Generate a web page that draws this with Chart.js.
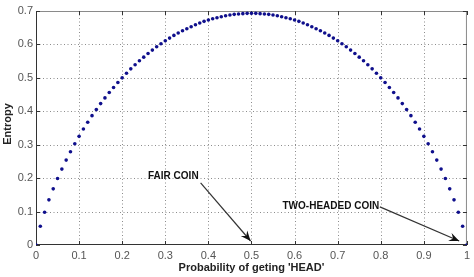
<!DOCTYPE html>
<html lang="en">
<head>
    <meta charset="UTF-8">
    <title>Entropy of a coin toss</title>
    <script src="https://cdn.jsdelivr.net/npm/chart.js@4.4.0/dist/chart.umd.min.js"></script>
    <style>
        html, body { margin: 0; padding: 0; background: #fff; }
        #wrap { width: 474px; height: 277px; }
    </style>
</head>
<body>
    <div id="wrap"><canvas id="myChart"></canvas></div>
</body>
<script>
    // probability of HEAD and the entropy (nats)
    var probs = [0, 0.01, 0.02, 0.03, 0.04, 0.05, 0.06, 0.07, 0.08, 0.09,
        0.10, 0.11, 0.12, 0.13, 0.14, 0.15, 0.16, 0.17, 0.18, 0.19,
        0.20, 0.21, 0.22, 0.23, 0.24, 0.25, 0.26, 0.27, 0.28, 0.29,
        0.30, 0.31, 0.32, 0.33, 0.34, 0.35, 0.36, 0.37, 0.38, 0.39,
        0.40, 0.41, 0.42, 0.43, 0.44, 0.45, 0.46, 0.47, 0.48, 0.49,
        0.50, 0.51, 0.52, 0.53, 0.54, 0.55, 0.56, 0.57, 0.58, 0.59,
        0.60, 0.61, 0.62, 0.63, 0.64, 0.65, 0.66, 0.67, 0.68, 0.69,
        0.70, 0.71, 0.72, 0.73, 0.74, 0.75, 0.76, 0.77, 0.78, 0.79,
        0.80, 0.81, 0.82, 0.83, 0.84, 0.85, 0.86, 0.87, 0.88, 0.89,
        0.90, 0.91, 0.92, 0.93, 0.94, 0.95, 0.96, 0.97, 0.98, 0.99, 1];
    var entropy = [0, 0.056, 0.098, 0.135, 0.168, 0.199, 0.227, 0.254, 0.279, 0.303,
        0.325, 0.347, 0.367, 0.387, 0.405, 0.423, 0.440, 0.456, 0.471, 0.486,
        0.500, 0.514, 0.527, 0.539, 0.551, 0.562, 0.573, 0.583, 0.593, 0.602,
        0.611, 0.619, 0.627, 0.634, 0.641, 0.647, 0.653, 0.659, 0.664, 0.669,
        0.673, 0.677, 0.680, 0.683, 0.686, 0.688, 0.690, 0.691, 0.692, 0.693,
        0.693, 0.693, 0.692, 0.691, 0.690, 0.688, 0.686, 0.683, 0.680, 0.677,
        0.673, 0.669, 0.664, 0.659, 0.653, 0.647, 0.641, 0.634, 0.627, 0.619,
        0.611, 0.602, 0.593, 0.583, 0.573, 0.562, 0.551, 0.539, 0.527, 0.514,
        0.500, 0.486, 0.471, 0.456, 0.440, 0.423, 0.405, 0.387, 0.367, 0.347,
        0.325, 0.303, 0.279, 0.254, 0.227, 0.199, 0.168, 0.135, 0.098, 0.056, 0];
    var xTicks = [0, 0.1, 0.2, 0.3, 0.4, 0.5, 0.6, 0.7, 0.8, 0.9, 1];
    var yTicks = [0, 0.1, 0.2, 0.3, 0.4, 0.5, 0.6, 0.7];
    var xTitle = "Probability of geting 'HEAD'";
    var yTitle = 'Entropy';
    // annotations: text anchor and arrow [from, to] in data units
    var notes = [
        { text: 'FAIR COIN', at: [0.26, 0.206], from: [0.382, 0.186], to: [0.498, 0.012] },
        { text: 'TWO-HEADED COIN', at: [0.572, 0.117], from: [0.798, 0.114], to: [0.982, 0.012] }
    ];

    var FONT = '"Liberation Sans", Arial, sans-serif';

    var frame = {
        id: 'frame',
        beforeDatasetsDraw: function (chart) {
            var c = chart.ctx, a = chart.chartArea;
            var xs = chart.scales.x, ys = chart.scales.y;
            c.save();
            // dotted grid
            c.strokeStyle = '#8c8c8c';
            c.lineWidth = 1;
            c.setLineDash([1, 2.5]);
            c.beginPath();
            xTicks.forEach(function (v) {
                if (v === 0 || v === 1) return;
                var px = Math.round(xs.getPixelForValue(v)) + 0.5;
                c.moveTo(px, a.top); c.lineTo(px, a.bottom);
            });
            yTicks.forEach(function (v) {
                if (v === 0 || v === 0.7) return;
                var py = Math.round(ys.getPixelForValue(v)) + 0.5;
                c.moveTo(a.left, py); c.lineTo(a.right, py);
            });
            c.stroke();
            c.setLineDash([]);
            // box
            c.strokeStyle = '#8a8a8a';
            c.beginPath();
            c.moveTo(a.left, a.top + 0.5); c.lineTo(a.right - 0.5, a.top + 0.5); c.lineTo(a.right - 0.5, a.bottom);
            c.stroke();
            c.strokeStyle = '#333';
            c.beginPath();
            c.moveTo(a.left + 0.5, a.top); c.lineTo(a.left + 0.5, a.bottom - 0.5); c.lineTo(a.right, a.bottom - 0.5);
            c.stroke();
            // inward ticks
            c.beginPath();
            xTicks.forEach(function (v) {
                var px = Math.round(xs.getPixelForValue(v)) + 0.5;
                c.moveTo(px, a.bottom); c.lineTo(px, a.bottom - 4);
                c.moveTo(px, a.top); c.lineTo(px, a.top + 4);
            });
            yTicks.forEach(function (v) {
                var py = Math.round(ys.getPixelForValue(v)) + 0.5;
                c.moveTo(a.left, py); c.lineTo(a.left + 4, py);
                c.moveTo(a.right, py); c.lineTo(a.right - 4, py);
            });
            c.stroke();
            // axis titles
            c.fillStyle = '#222';
            c.font = 'bold 11px ' + FONT;
            c.textAlign = 'center';
            c.textBaseline = 'middle';
            c.fillText(xTitle, (a.left + a.right) / 2, 268);
            c.translate(8, 124);
            c.rotate(-Math.PI / 2);
            c.fillText(yTitle, 0, 0);
            c.restore();
        },
        afterDatasetsDraw: function (chart) {
            var c = chart.ctx;
            var xs = chart.scales.x, ys = chart.scales.y;
            c.save();
            notes.forEach(function (n) {
                c.fillStyle = '#111';
                c.font = 'bold 10px ' + FONT;
                c.textAlign = 'left';
                c.textBaseline = 'middle';
                c.fillText(n.text, xs.getPixelForValue(n.at[0]), ys.getPixelForValue(n.at[1]));
                var x1 = xs.getPixelForValue(n.from[0]), y1 = ys.getPixelForValue(n.from[1]);
                var x2 = xs.getPixelForValue(n.to[0]), y2 = ys.getPixelForValue(n.to[1]);
                c.strokeStyle = '#333';
                c.lineWidth = 1.2;
                c.beginPath(); c.moveTo(x1, y1); c.lineTo(x2, y2); c.stroke();
                var ang = Math.atan2(y2 - y1, x2 - x1), L = 11, W = 0.4;
                c.fillStyle = '#111';
                c.beginPath();
                c.moveTo(x2, y2);
                c.lineTo(x2 - L * Math.cos(ang - W), y2 - L * Math.sin(ang - W));
                c.lineTo(x2 - 0.6 * L * Math.cos(ang), y2 - 0.6 * L * Math.sin(ang));
                c.lineTo(x2 - L * Math.cos(ang + W), y2 - L * Math.sin(ang + W));
                c.closePath();
                c.fill();
            });
            c.restore();
        }
    };

    var hiddenGrid = { display: true, drawOnChartArea: false, color: 'rgba(0,0,0,0)', tickLength: 0 };

    var ctx = document.getElementById('myChart').getContext('2d');
    var chart = new Chart(ctx, {
        type: 'scatter',
        data: {
            datasets: [{
                label: 'Entropy',
                data: probs.map(function (p, i) { return { x: p, y: entropy[i] }; }),
                backgroundColor: 'rgb(15, 15, 140)',
                borderWidth: 0,
                pointRadius: 1.8
            }]
        },
        options: {
            responsive: true,
            maintainAspectRatio: false,
            animation: false,
            events: [],
            layout: { padding: { left: 0, right: 3, top: 11, bottom: 0 } },
            plugins: { legend: { display: false }, tooltip: { enabled: false } },
            scales: {
                x: {
                    type: 'linear', min: 0, max: 1,
                    afterBuildTicks: function (s) { s.ticks = xTicks.map(function (v) { return { value: v }; }); },
                    afterFit: function (s) { s.height = 32; },
                    border: { display: false },
                    grid: hiddenGrid,
                    ticks: {
                        color: '#555', font: { family: FONT, size: 11 }, padding: 4, maxRotation: 0,
                        callback: function (v) { return String(v); }
                    }
                },
                y: {
                    type: 'linear', min: 0, max: 0.7,
                    afterBuildTicks: function (s) { s.ticks = yTicks.map(function (v) { return { value: v }; }); },
                    afterFit: function (s) { s.width = 36; },
                    border: { display: false },
                    grid: hiddenGrid,
                    ticks: {
                        color: '#555', font: { family: FONT, size: 11 }, padding: 3,
                        callback: function (v) { return String(v); }
                    }
                }
            }
        },
        plugins: [frame]
    });
</script>
</html>
